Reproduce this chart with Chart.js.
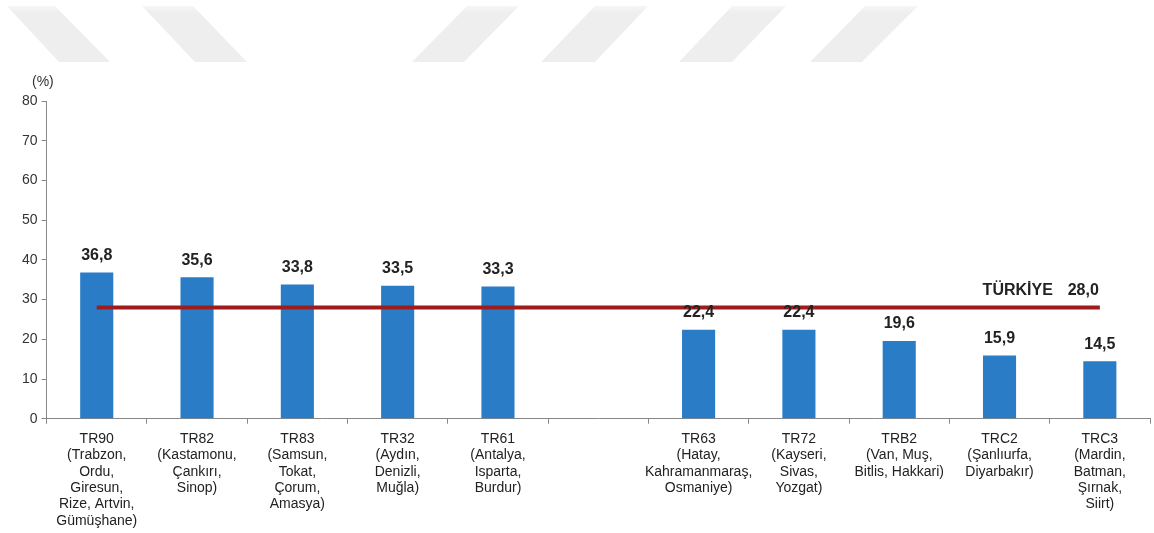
<!DOCTYPE html>
<html>
<head>
<meta charset="utf-8">
<script src="https://cdn.jsdelivr.net/npm/chart.js@4"></script>
<style>
  html, body { margin: 0; padding: 0; background: #fff; }
  #wrap { width: 1154px; height: 533px; position: relative; }
</style>
</head>
<body>
<div id="wrap"><canvas id="chart"></canvas></div>
<script>
// regions (an empty slot separates the two groups)
let region_labels = [
    ['TR90', '(Trabzon,', 'Ordu,', 'Giresun,', 'Rize, Artvin,', 'Gümüşhane)'],
    ['TR82', '(Kastamonu,', 'Çankırı,', 'Sinop)'],
    ['TR83', '(Samsun,', 'Tokat,', 'Çorum,', 'Amasya)'],
    ['TR32', '(Aydın,', 'Denizli,', 'Muğla)'],
    ['TR61', '(Antalya,', 'Isparta,', 'Burdur)'],
    '',
    ['TR63', '(Hatay,', 'Kahramanmaraş,', 'Osmaniye)'],
    ['TR72', '(Kayseri,', 'Sivas,', 'Yozgat)'],
    ['TRB2', '(Van, Muş,', 'Bitlis, Hakkari)'],
    ['TRC2', '(Şanlıurfa,', 'Diyarbakır)'],
    ['TRC3', '(Mardin,', 'Batman,', 'Şırnak,', 'Siirt)']
];
let region_values = [36.8, 35.6, 33.8, 33.5, 33.3, null, 22.4, 22.4, 19.6, 15.9, 14.5];
let turkiye_values = [28.0, 28.0, 28.0, 28.0, 28.0, 28.0, 28.0, 28.0, 28.0, 28.0, 28.0];
let turkiye_label = 'TÜRKİYE';
let y_ticks = [0, 10, 20, 30, 40, 50, 60, 70, 80];

const FONT = '"Liberation Sans", Arial, sans-serif';
const fmt = v => v.toFixed(1).replace('.', ',');

// faint stripes at the top of the picture
const stripes = {
    id: 'stripes',
    beforeDraw(chart) {
        const c = chart.ctx;
        c.save();
        const g = c.createLinearGradient(0, 4, 0, 62);
        g.addColorStop(0, '#f8f8f8');
        g.addColorStop(0.15, '#eeeeee');
        g.addColorStop(1, '#eeeeee');
        c.fillStyle = g;
        const shapes = [
            [7, 55, 59, 110], [142, 193, 195, 247],
            [467, 519, 412, 464], [595, 648, 541, 595],
            [732, 786, 679, 732], [865, 918, 810, 862]
        ];
        shapes.forEach(s => {
            c.beginPath();
            c.moveTo(s[0], 6); c.lineTo(s[1], 6);
            c.lineTo(s[3], 62); c.lineTo(s[2], 62);
            c.closePath(); c.fill();
        });
        c.restore();
    }
};

const labels = {
    id: 'labels',
    afterDatasetsDraw(chart) {
        const c = chart.ctx;
        c.save();
        c.font = 'bold 16px ' + FONT;
        c.fillStyle = '#222';
        c.textAlign = 'center';
        c.textBaseline = 'bottom';
        chart.getDatasetMeta(0).data.forEach((bar, i) => {
            if (region_values[i] == null) return;
            c.fillText(fmt(region_values[i]), bar.x, bar.y - 9);
        });
        const line = chart.getDatasetMeta(1).data;
        const last = line[line.length - 1];
        c.textBaseline = 'middle';
        c.textAlign = 'right';
        c.fillText(fmt(turkiye_values[turkiye_values.length - 1]), last.x - 1, last.y - 17);
        c.fillText(turkiye_label, last.x - 47, last.y - 17);
        c.font = '14px ' + FONT;
        c.textAlign = 'left';
        c.fillStyle = '#333';
        c.fillText('(%)', 32, 82);
        c.restore();
    }
};

new Chart(document.getElementById('chart'), {
    type: 'bar',
    data: {
        labels: region_labels,
        datasets: [{
            data: region_values,
            backgroundColor: '#2a7cc7',
            barPercentage: 0.33,
            categoryPercentage: 1,
            order: 2
        }, {
            type: 'line',
            data: turkiye_values,
            borderColor: '#9e1c1c',
            borderWidth: 4,
            pointRadius: 0,
            order: 1
        }]
    },
    options: {
        responsive: true,
        maintainAspectRatio: false,
        animation: false,
        layout: { padding: { top: 101, left: 18, right: 4, bottom: -3 } },
        plugins: { legend: { display: false }, tooltip: { enabled: false } },
        scales: {
            x: {
                grid: { display: true, offset: true, drawOnChartArea: false, tickLength: 5, color: '#888' },
                border: { color: '#888' },
                ticks: {
                    autoSkip: false, maxRotation: 0, color: '#222', padding: 7,
                    font: { family: FONT, size: 14, lineHeight: 1.17 }
                }
            },
            y: {
                min: 0, max: 80,
                afterBuildTicks: axis => { axis.ticks = y_ticks.map(v => ({ value: v })); },
                grid: { display: true, drawOnChartArea: false, tickLength: 5, color: '#888' },
                border: { color: '#888' },
                ticks: {
                    color: '#333', padding: 4,
                    font: { family: FONT, size: 14 }
                }
            }
        }
    },
    plugins: [stripes, labels]
});
</script>
</body>
</html>
